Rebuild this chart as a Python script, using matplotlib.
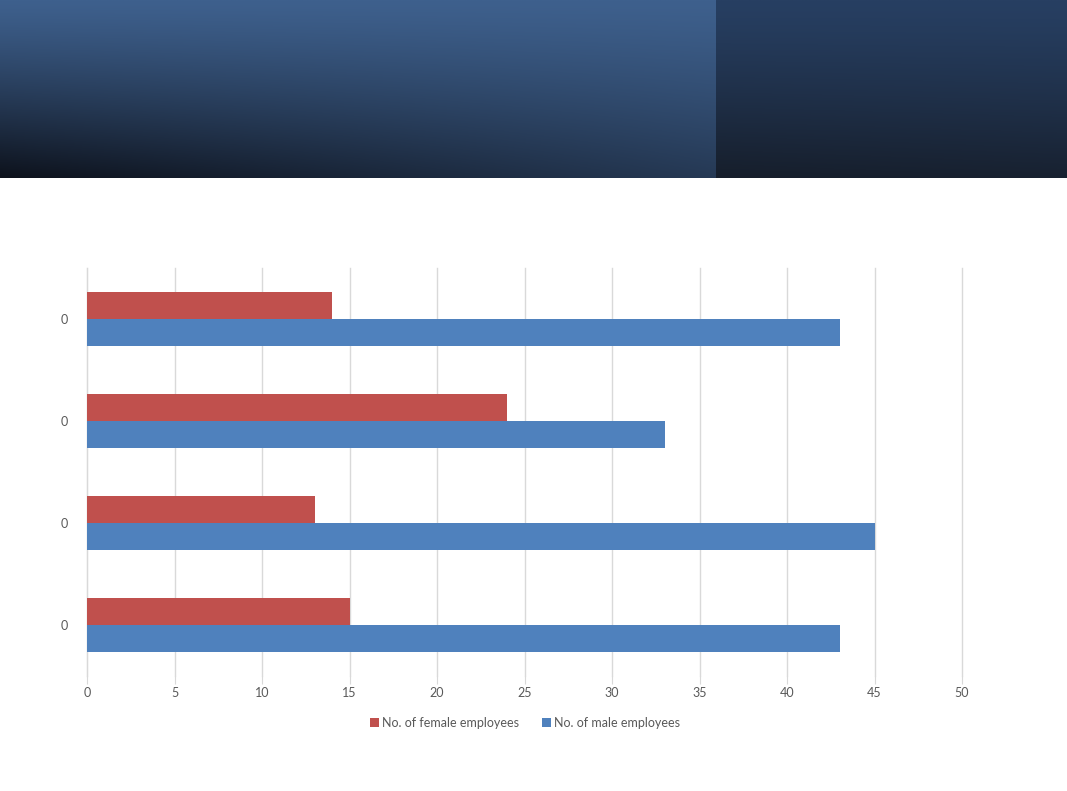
import numpy as np
import matplotlib.pyplot as plt

# categories bottom -> top (all labelled "0" in the original)
categories = ['0', '0', '0', '0']
female = [15, 13, 24, 14]
male = [43, 45, 33, 43]
x_ticks = [0, 5, 10, 15, 20, 25, 30, 35, 40, 45, 50]

W, H = 1067, 791
fig = plt.figure(figsize=(W / 100, H / 100), dpi=100)
fig.patch.set_facecolor('white')

# header band with gradient
def gradient(w, h, c_top, c_bot, tilt=0.5):
    yy, xx = np.mgrid[0:1:h * 1j, 0:1:w * 1j]
    t = np.clip(yy ** 1.2 * (1 - tilt * xx), 0, 1)
    top = np.array(c_top) / 255
    bot = np.array(c_bot) / 255
    return top[None, None, :] * (1 - t[..., None]) + bot[None, None, :] * t[..., None]

hdr_h = 178 / H
split = 716 / W
ax_l = fig.add_axes([0, 1 - hdr_h, split, hdr_h])
ax_l.imshow(gradient(200, 100, (62, 96, 141), (13, 18, 28), tilt=0.5), aspect='auto')
ax_l.axis('off')
ax_r = fig.add_axes([split, 1 - hdr_h, 1 - split, hdr_h])
ax_r.imshow(gradient(100, 100, (39, 63, 98), (22, 30, 43), tilt=0.1), aspect='auto')
ax_r.axis('off')

# chart
left, right, top, bottom = 87, 962, 268, 676
ax = fig.add_axes([left / W, 1 - bottom / H, (right - left) / W, (bottom - top) / H])

pos = np.arange(len(categories))
bh = 0.26
ax.barh(pos + bh / 2, female, height=bh, color='#C0504D', label='No. of female employees', zorder=3)
ax.barh(pos - bh / 2, male, height=bh, color='#4F81BD', label='No. of male employees', zorder=3)

ax.set_xlim(0, 50)
ax.set_ylim(-0.5, len(categories) - 0.5)
ax.set_xticks(x_ticks)
ax.set_yticks(pos)
ax.set_yticklabels(categories)
ax.grid(axis='x', color='#D9D9D9', linewidth=1, zorder=0)
for gl in ax.get_xgridlines():
    gl.set_clip_on(False)
for s in ['top', 'right', 'bottom']:
    ax.spines[s].set_visible(False)
ax.spines['left'].set_color('#D9D9D9')
ax.tick_params(axis='x', length=6, color='#D9D9D9', labelcolor='#595959', labelsize=9, pad=2)
ax.tick_params(axis='y', length=0, labelcolor='#595959', labelsize=9, pad=14)
for lbl in ax.get_xticklabels() + ax.get_yticklabels():
    lbl.set_family('Lato')

leg = fig.legend(loc='center', bbox_to_anchor=(525 / W, 1 - 723 / H), ncol=2, frameon=False,
                 prop={'family': 'Lato', 'size': 9}, handlelength=0.7, handleheight=0.7,
                 handletextpad=0.3, columnspacing=1.8)
for t in leg.get_texts():
    t.set_color('#595959')

fig.savefig('out.png', dpi=100)
